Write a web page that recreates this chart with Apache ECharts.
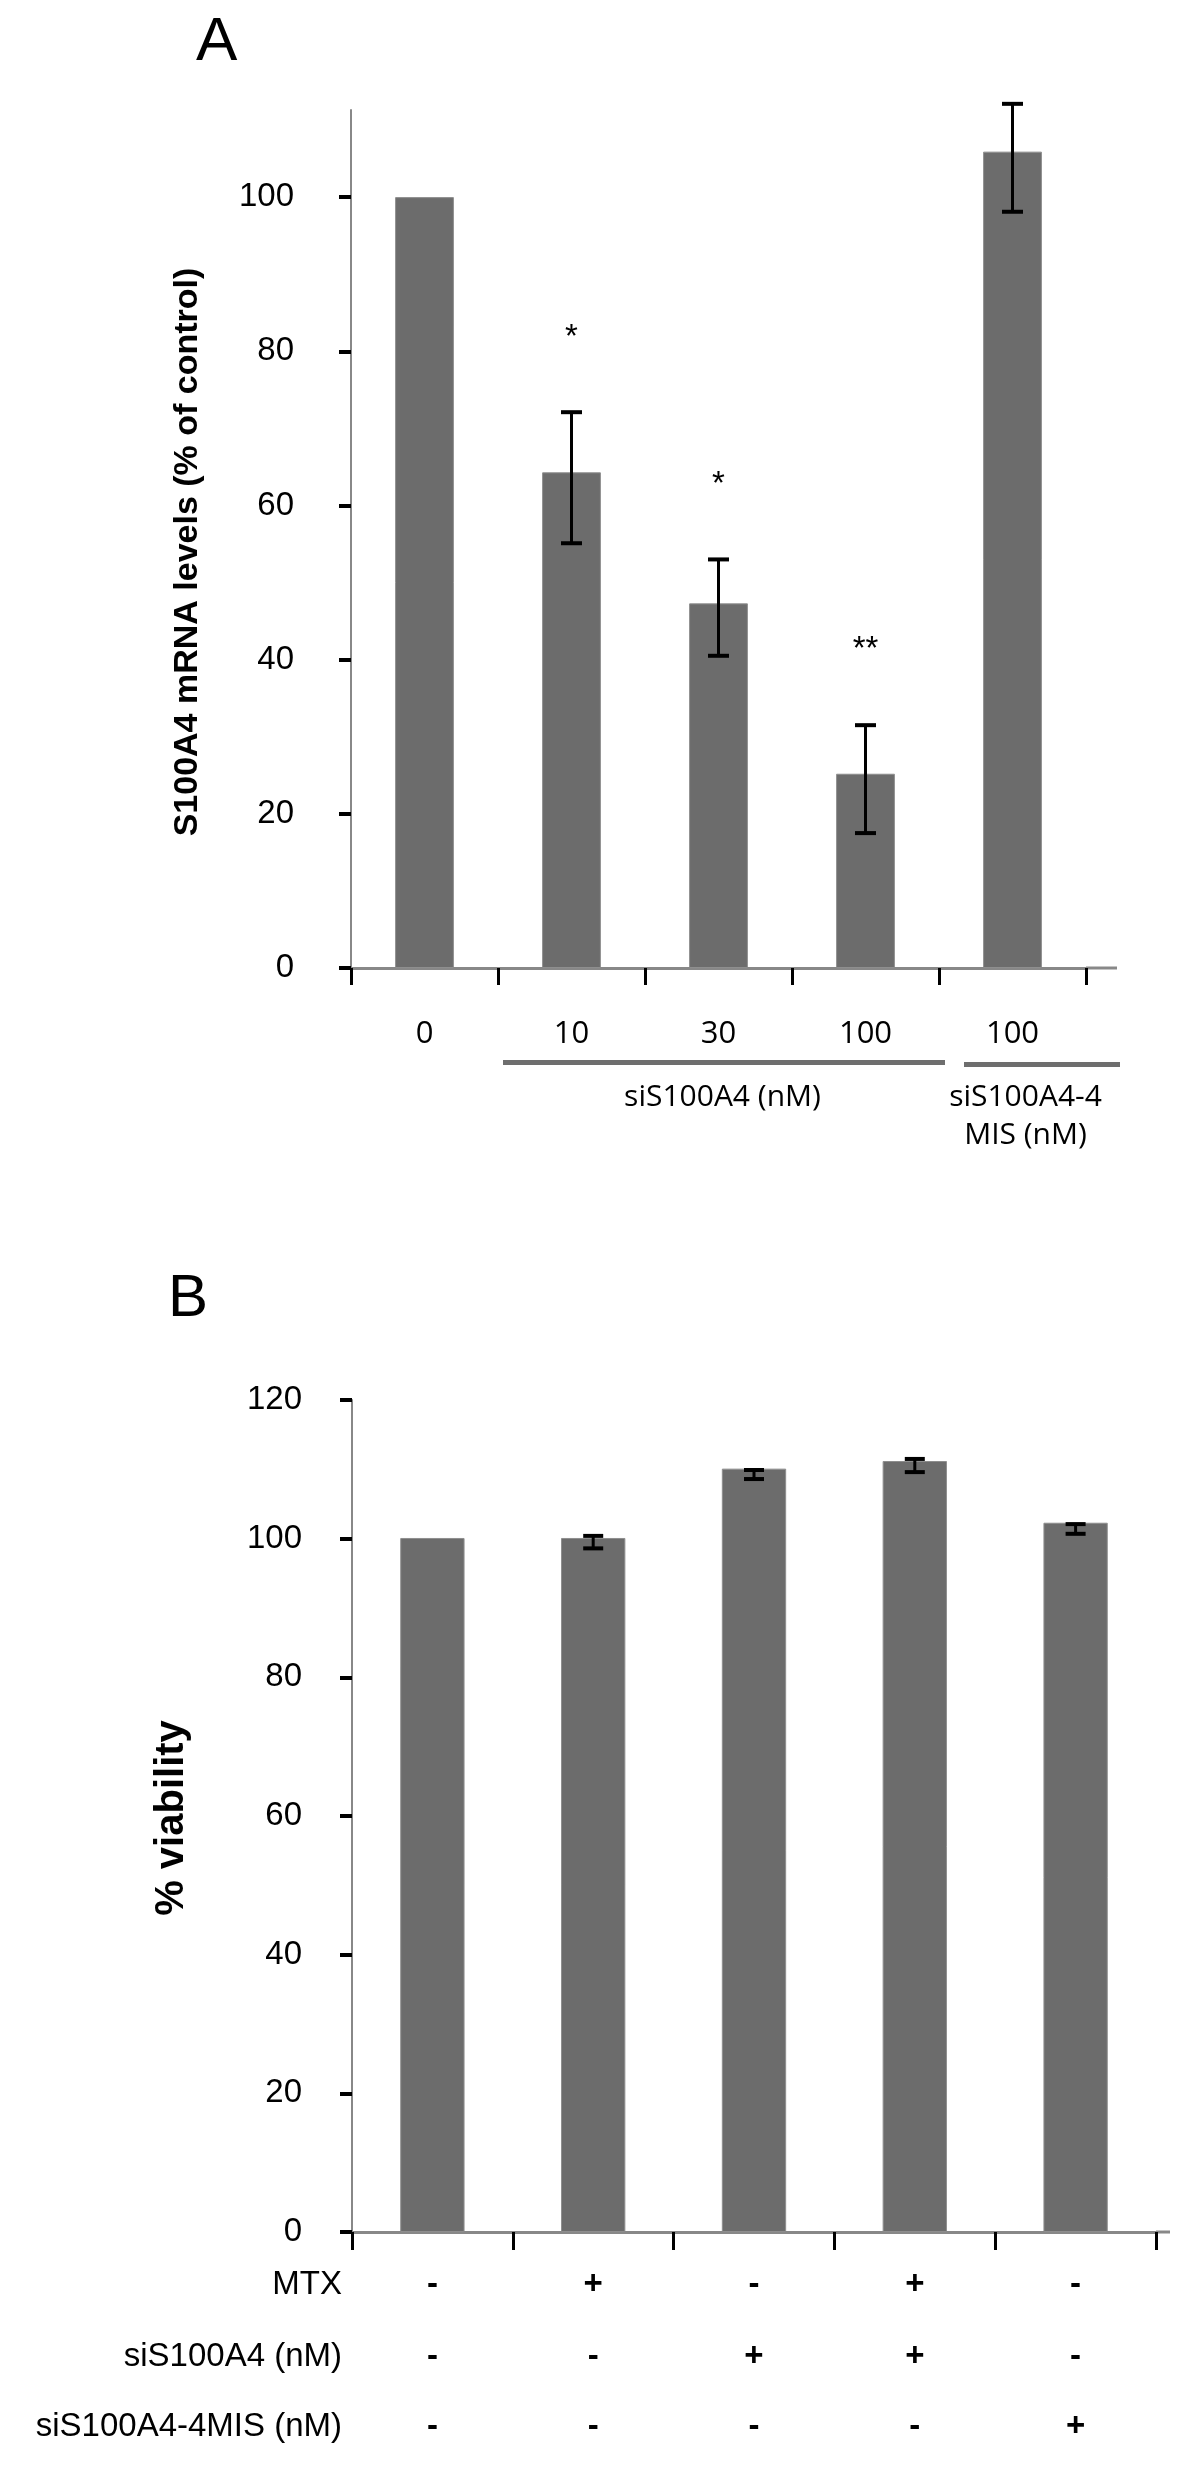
<!DOCTYPE html>
<html>
<head>
<meta charset="utf-8">
<script src="https://cdn.jsdelivr.net/npm/echarts@6/dist/echarts.min.js"></script>
<style>
  html, body { margin: 0; padding: 0; background: #fff; }
  #chart { width: 1200px; height: 2474px; }
</style>
</head>
<body>
<div id="chart"></div>
<script>
// ---------- Panel A data ----------
const catsA = ['0', '10', '30', '100', '100'];
const valsA = [100, 64.3, 47.3, 25.2, 105.9];
const errLowA = [null, 55.1, 40.5, 17.5, 98.1];
const errHighA = [null, 72.1, 53.0, 31.5, 112.1];
const starsA = ['', '*', '*', '**', ''];
const yTicksA = [0, 20, 40, 60, 80, 100];
const titleA = 'S100A4 mRNA levels (% of control)';
const groupA1 = 'siS100A4 (nM)';
const groupA2 = ['siS100A4-4', 'MIS (nM)'];

// ---------- Panel B data ----------
const catsB = ['c1', 'c2', 'c3', 'c4', 'c5'];
const valsB = [100.1, 100.1, 110.1, 111.2, 102.3];
const errLowB = [null, 98.6, 108.6, 109.6, 100.7];
const errHighB = [null, 100.4, 109.9, 111.5, 102.1];
const yTicksB = [0, 20, 40, 60, 80, 100, 120];
const rowMTX = ['-', '+', '-', '+', '-'];
const rowSi = ['-', '-', '+', '+', '-'];
const rowMis = ['-', '-', '-', '-', '+'];
const rowNames = ['MTX', 'siS100A4 (nM)', 'siS100A4-4MIS (nM)'];
const titleB = '% viability';

// ---------- layout ----------
const ARIAL = "'Liberation Sans', Arial, sans-serif";
const CAL = "'Open Sans', sans-serif";
const BAR = '#6c6c6c';
const AXIS = '#888888';

const gA = { left: 351, top: 110, right: 1086, bottom: 968 };
const gB = { left: 352, top: 1400, right: 1156, bottom: 2232 };
const catWA = (gA.right - gA.left) / catsA.length;

const chart = echarts.init(document.getElementById('chart'), null, { renderer: 'canvas' });

function errItem(lowArr, highArr) {
  const out = [];
  lowArr.forEach((lo, i) => { if (lo != null) out.push([i, lo, highArr[i]]); });
  return out;
}

function errRender(capW) {
  return function (params, api) {
    const i = api.value(0);
    const lo = api.coord([i, api.value(1)]);
    const hi = api.coord([i, api.value(2)]);
    const x = hi[0];
    return {
      type: 'group',
      children: [
        { type: 'line', shape: { x1: x, y1: hi[1], x2: x, y2: lo[1] }, style: { stroke: '#000', lineWidth: 3 } },
        { type: 'line', shape: { x1: x - capW / 2, y1: hi[1], x2: x + capW / 2, y2: hi[1] }, style: { stroke: '#000', lineWidth: 4 } },
        { type: 'line', shape: { x1: x - capW / 2, y1: lo[1], x2: x + capW / 2, y2: lo[1] }, style: { stroke: '#000', lineWidth: 4 } }
      ]
    };
  };
}

const starData = [];
starsA.forEach((s, i) => { if (s) starData.push([i, errHighA[i] + 9.7, s]); });

const rowAxis = (data, name, offset, padTop) => ({
  type: 'category', gridIndex: 1, data: data, position: 'bottom', offset: offset,
  axisLine: { show: false }, axisTick: { show: false }, splitLine: { show: false },
  axisLabel: { margin: 0, verticalAlign: 'middle', fontSize: 33, fontWeight: 'bold', color: '#000', fontFamily: ARIAL, interval: 0 },
  name: name, nameLocation: 'start', nameGap: 10,
  nameTextStyle: { fontSize: 33, color: '#000', fontFamily: ARIAL, align: 'right', verticalAlign: 'middle', padding: [padTop, 0, 0, 0] }
});

const option = {
  animation: false,
  backgroundColor: '#fff',
  grid: [
    { left: gA.left, top: gA.top, width: gA.right - gA.left, height: gA.bottom - gA.top, containLabel: false, outerBoundsMode: 'none' },
    { left: gB.left, top: gB.top, width: gB.right - gB.left, height: gB.bottom - gB.top, containLabel: false, outerBoundsMode: 'none' }
  ],
  xAxis: [
    {
      type: 'category', gridIndex: 0, data: catsA,
      axisLine: { lineStyle: { color: AXIS, width: 3 } },
      axisTick: { show: true, length: 17, lineStyle: { color: '#000', width: 3 } },
      axisLabel: { margin: 66, verticalAlign: 'middle', fontSize: 31, color: '#000', fontFamily: CAL, interval: 0 },
      splitLine: { show: false }
    },
    {
      type: 'category', gridIndex: 1, data: catsB,
      axisLine: { lineStyle: { color: AXIS, width: 3 } },
      axisTick: { show: true, length: 18, lineStyle: { color: '#000', width: 3 } },
      axisLabel: { show: false },
      splitLine: { show: false }
    },
    rowAxis(rowMTX, rowNames[0], 53, 14),
    rowAxis(rowSi, rowNames[1], 125, 0),
    rowAxis(rowMis, rowNames[2], 195, 0)
  ],
  yAxis: [
    {
      type: 'value', gridIndex: 0, min: 0, max: 111.3, interval: 20,
      axisLine: { show: true, lineStyle: { color: AXIS, width: 2 } },
      axisTick: { show: true, length: 12, customValues: yTicksA, lineStyle: { color: '#000', width: 4 } },
      axisLabel: { margin: 57, fontSize: 33, color: '#000', fontFamily: ARIAL, customValues: yTicksA,
        formatter: v => (v % 20 === 0 ? String(v) : '') },
      splitLine: { show: false }
    },
    {
      type: 'value', gridIndex: 1, min: 0, max: 120, interval: 20,
      axisLine: { show: true, lineStyle: { color: AXIS, width: 2 } },
      axisTick: { show: true, length: 12, customValues: yTicksB, lineStyle: { color: '#000', width: 4 } },
      axisLabel: { margin: 50, fontSize: 33, color: '#000', fontFamily: ARIAL, customValues: yTicksB, padding: [18, 0, 0, 0] },
      splitLine: { show: false }
    }
  ],
  series: [
    {
      type: 'bar', xAxisIndex: 0, yAxisIndex: 0, data: valsA, barWidth: '40%',
      itemStyle: { color: BAR, borderColor: '#8e8e8e', borderWidth: 1 }
    },
    {
      type: 'custom', xAxisIndex: 0, yAxisIndex: 0, data: errItem(errLowA, errHighA),
      renderItem: errRender(21), z: 5
    },
    {
      type: 'custom', xAxisIndex: 0, yAxisIndex: 0, data: starData, z: 5,
      renderItem: function (params, api) {
        const p = api.coord([api.value(0), api.value(1)]);
        return {
          type: 'text', x: p[0], y: p[1],
          style: { text: starData[params.dataIndex][2], font: '33px ' + ARIAL, fill: '#000', align: 'center', verticalAlign: 'middle' }
        };
      }
    },
    {
      type: 'bar', xAxisIndex: 1, yAxisIndex: 1, data: valsB, barWidth: '40%',
      itemStyle: { color: BAR, borderColor: '#8e8e8e', borderWidth: 1 }
    },
    {
      type: 'custom', xAxisIndex: 1, yAxisIndex: 1, data: errItem(errLowB, errHighB),
      renderItem: errRender(20), z: 5
    }
  ],
  graphic: [
    // panel letters
    { type: 'text', x: 196, y: 43, style: { text: 'A', font: '62px ' + ARIAL, fill: '#000', align: 'left', verticalAlign: 'middle' } },
    { type: 'text', x: 168, y: 1299, style: { text: 'B', font: '60px ' + ARIAL, fill: '#000', align: 'left', verticalAlign: 'middle' } },
    // axis titles
    { type: 'text', x: 188, y: 552, rotation: Math.PI / 2, style: { text: titleA, font: 'bold 34px ' + ARIAL, fill: '#000', align: 'center', verticalAlign: 'middle' } },
    { type: 'text', x: 172, y: 1818, rotation: Math.PI / 2, style: { text: titleB, font: 'bold 40px ' + ARIAL, fill: '#000', align: 'center', verticalAlign: 'middle' } },
    // x-axis line extensions
    { type: 'line', shape: { x1: gA.right, y1: gA.bottom, x2: 1117, y2: gA.bottom }, style: { stroke: AXIS, lineWidth: 3 } },
    { type: 'line', shape: { x1: gB.right, y1: gB.bottom, x2: 1170, y2: gB.bottom }, style: { stroke: AXIS, lineWidth: 3 } },
    // group underlines for panel A
    { type: 'rect', shape: { x: gA.left + catWA + 5, y: 1060, width: 3 * catWA + 1, height: 5 }, style: { fill: '#6e6e6e' } },
    { type: 'rect', shape: { x: gA.left + 4 * catWA + 25, y: 1062, width: 1120 - (gA.left + 4 * catWA + 25), height: 5 }, style: { fill: '#6e6e6e' } },
    // group labels
    { type: 'text', x: gA.left + 2.5 * catWA + 4, y: 1097, style: { text: groupA1, font: '30px ' + CAL, fill: '#000', align: 'center', verticalAlign: 'middle' } },
    { type: 'text', x: gA.left + 4.5 * catWA + 13, y: 1097, style: { text: groupA2[0], font: '30px ' + CAL, fill: '#000', align: 'center', verticalAlign: 'middle' } },
    { type: 'text', x: gA.left + 4.5 * catWA + 13, y: 1135, style: { text: groupA2[1], font: '30px ' + CAL, fill: '#000', align: 'center', verticalAlign: 'middle' } }
  ]
};

chart.setOption(option);
</script>
</body>
</html>
